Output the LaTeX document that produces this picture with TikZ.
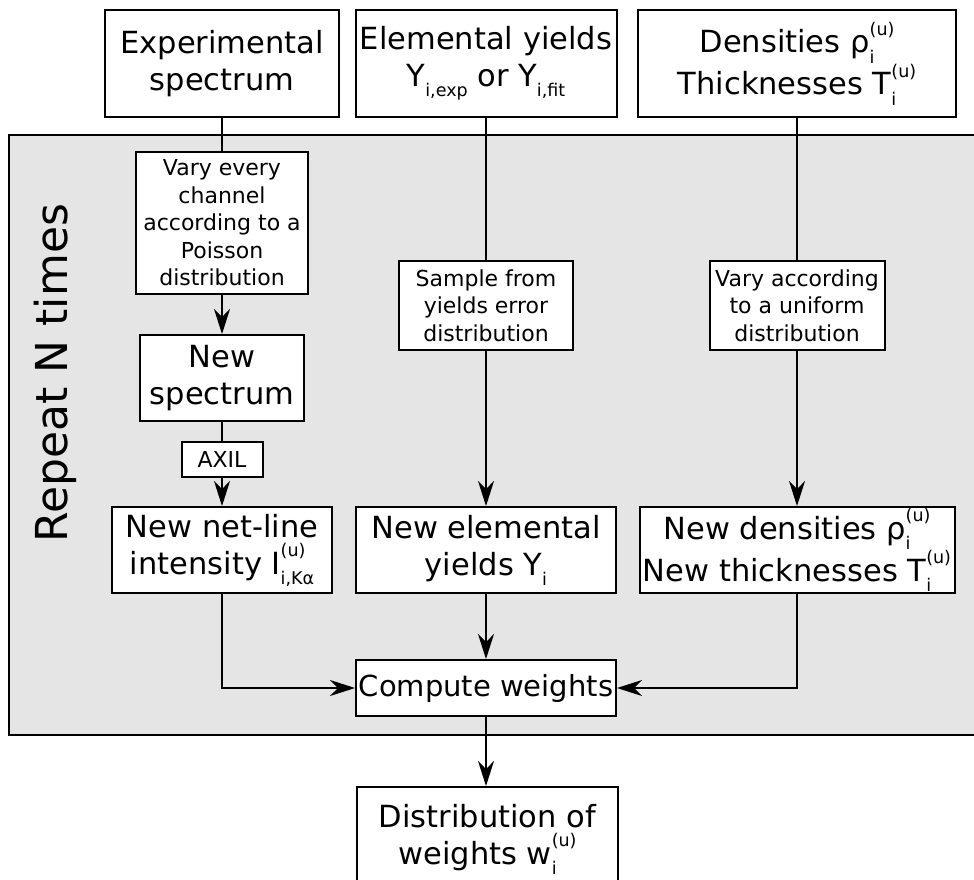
\documentclass[tikz,border=0pt]{standalone}
\usepackage{fontspec}
\setmainfont{DejaVu Sans}
\usetikzlibrary{arrows.meta}
\newcommand\BigF{\fontsize{30.5}{37}\selectfont}
\newcommand\SmF{\fontsize{22}{27.5}\selectfont}
\newcommand\Sbb[1]{\raisebox{-0.33em}{\fontsize{17.5}{17.5}\selectfont #1}}
\newcommand\Spp[1]{\raisebox{0.58em}{\fontsize{17.5}{17.5}\selectfont #1}}
\tikzset{
  box/.style={draw=black, line width=2pt, fill=white, align=center, inner sep=0pt},
  bigbox/.style={box, font=\BigF},
  smbox/.style={box, font=\SmF},
  conn/.style={line width=1.3pt, -{Stealth[length=25pt,width=16pt,inset=8pt]}},
  plain/.style={line width=1.3pt},
}
\begin{document}
\begin{tikzpicture}[x=1pt,y=-1pt]
\useasboundingbox (0,0) rectangle (974,879);
\clip (0,0) rectangle (974,879);
% repeat region
\draw[line width=2pt, fill={rgb,255:red,229;green,229;blue,229}] (9,135) rectangle (990,735);
\node[rotate=90, font=\fontsize{44}{50}\selectfont] (rep) at (55,373) {Repeat N times};
% top boxes
\node[bigbox, minimum width=234, minimum height=107] (exp) at (222,63.5) {Experimental\\spectrum};
\node[bigbox, minimum width=261, minimum height=107] (yld) at (486,63.5) {Elemental yields\\ Y\Sbb{i,exp} or Y\Sbb{i,fit}};
\node[bigbox, minimum width=318, minimum height=107] (den) at (797,63.5) {Densities ρ\rlap{\Sbb{i}}\Spp{(u)}\\Thicknesses T\rlap{\Sbb{i}}\Spp{(u)}};
% left column
\node[smbox, minimum width=172, minimum height=142] (vary) at (222,223) {Vary every\\channel\\according to a\\Poisson\\distribution};
\node[bigbox, minimum width=164, minimum height=86] (nspec) at (222,378) {New\\spectrum};
\node[smbox, minimum width=81, minimum height=35] (axil) at (222,459.5) {AXIL};
\node[bigbox, minimum width=220, minimum height=86] (net) at (222,550) {New net-line\\intensity I\rlap{\Spp{(u)}}\Sbb{i,Kα}};
% middle column
\node[smbox, minimum width=174, minimum height=89] (samp) at (486,305.5) {Sample from\\yields error\\distribution};
\node[bigbox, minimum width=260, minimum height=86] (nyld) at (486,550) {New elemental\\yields Y\Sbb{i}};
% right column
\node[smbox, minimum width=175, minimum height=89] (vuni) at (797,305.5) {Vary according\\to a uniform\\distribution};
\node[bigbox, minimum width=315, minimum height=86] (nden) at (797,550) {New densities ρ\rlap{\Sbb{i}}\Spp{(u)}\\New thicknesses T\rlap{\Sbb{i}}\Spp{(u)}};
% bottom
\node[box, font=\fontsize{29}{36}\selectfont, minimum width=260, minimum height=56] (comp) at (486,688) {Compute weights};
\node[bigbox, minimum width=261, minimum height=104, anchor=north] (dist) at (487.5,786) {Distribution of\\weights w\rlap{\Sbb{i}}\Spp{(u)}};
% connectors
\draw[plain] (exp) -- (vary);
\draw[conn] (vary) -- (nspec);
\draw[plain] (nspec) -- (axil);
\draw[conn] (axil) -- (net);
\draw[plain] (yld) -- (samp);
\draw[conn] (samp) -- (nyld);
\draw[plain] (den) -- (vuni);
\draw[conn] (vuni) -- (nden);
\draw[conn] (nyld) -- (comp);
\draw[conn] (net.south) |- (comp.west);
\draw[conn] (nden.south) |- (comp.east);
\draw[conn] (comp) -- (dist.north -| comp);
\end{tikzpicture}
\end{document}
